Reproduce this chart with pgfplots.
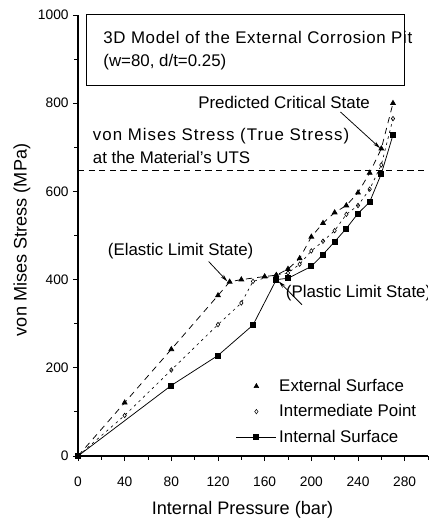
\documentclass[border=0pt]{standalone}
\usepackage{fontspec}
\setmainfont{Liberation Sans}
\usepackage{pgfplots}
\pgfplotsset{compat=1.18}
\usetikzlibrary{arrows.meta}

% stress vs pressure, three locations of the pit
\pgfplotstableread{
p s
0 0
40 121
80 242
120 364
130 395
140 400
160 407
170 410
180 424
190 448
200 497
210 528
220 552
230 568
240 597
250 642
260 697
270 800
}\external

\pgfplotstableread{
p s
0 0
40 92
80 195
120 298
140 347
150 396
170 411
180 415
190 435
200 465
210 487
220 511
230 548
240 568
250 605
260 660
270 765
}\intermediate

\pgfplotstableread{
p s
0 0
80 160
120 228
150 297
170 400
180 403
200 430
210 457
220 486
230 516
240 550
250 576
260 640
270 728
}\internal

\newcommand{\annfont}{\fontsize{13.5}{15}\selectfont}

\begin{document}
\begin{tikzpicture}
\begin{axis}[
    name=ax, scale only axis, width=280pt, height=352.8pt,
    xmin=0, xmax=300, ymin=0, ymax=1000,
    axis x line*=bottom, axis y line*=left,
    axis line style={-, line width=0.9pt},
    xtick={0,40,...,280}, minor xtick={20,60,...,300},
    ytick={0,200,...,1000}, minor ytick={100,300,...,900},
    tick align=outside, major tick length=4pt, minor tick length=3pt,
    tick style={black, line width=0.7pt},
    /pgf/number format/assume math mode=true,
    /pgf/number format/1000 sep={},
    tick label style={font=\fontsize{11}{13}\selectfont},
    xticklabel style={yshift=-9pt},
    label style={font=\fontsize{14.5}{17}\selectfont},
    xlabel={Internal Pressure (bar)}, ylabel={von Mises Stress (MPa)},
    x label style={at={(axis description cs:0.47,-0.122)}, anchor=center},
    y label style={at={(axis description cs:-0.16,0.49)}, anchor=center},
    legend style={draw=none, fill=none, at={(0.44,0.186)}, anchor=north west,
        font=\annfont, row sep=5pt},
    legend cell align=left,
    legend image code/.code={\draw[mark repeat=2, mark phase=2, #1]
        plot coordinates {(0pt,0pt) (16pt,0pt) (32pt,0pt)};},
]
\addplot[black, line width=0.6pt, dash pattern=on 5pt off 4pt, mark=triangle*,
    mark size=2.2pt, mark options={solid}, forget plot] table[x=p, y=s] {\external};
\addplot[black, line width=0.5pt, dash pattern=on 2pt off 3pt, mark=diamond,
    mark size=1.8pt, mark options={solid}, forget plot] table[x=p, y=s] {\intermediate};
\addplot[black, line width=0.6pt, mark=square*, mark size=2pt, forget plot]
    table[x=p, y=s] {\internal};

\addlegendimage{only marks, black, mark=triangle*, mark size=2.2pt}
\addlegendentry{External Surface}
\addlegendimage{only marks, black, mark=diamond, mark size=1.8pt}
\addlegendentry{Intermediate Point}
\addlegendimage{black, line width=0.6pt, mark=square*, mark size=2pt}
\addlegendentry{Internal Surface}

% UTS level
\draw[black, line width=0.6pt, dash pattern=on 5pt off 3.5pt]
    (axis cs:0,648) -- (axis cs:300,648);

% title box
\draw[black, line width=0.8pt] (axis cs:7,840) rectangle (axis cs:280,1000);
\node[anchor=west, font=\annfont\addfontfeatures{LetterSpace=4}] at (axis cs:18,950)
    {3D Model of the External Corrosion Pit};
\node[anchor=west, font=\annfont] at (axis cs:18,893) {(w=80, d/t=0.25)};

\node[anchor=west, font=\annfont\addfontfeatures{LetterSpace=6}] at (axis cs:9,725)
    {von Mises Stress (True Stress)};
\node[anchor=west, font=\annfont] at (axis cs:9,677) {at the Material's UTS};

\node[anchor=east, font=\annfont] at (axis cs:254,802) {Predicted Critical State};
\draw[-{Stealth[length=6pt, width=3pt]}, line width=0.6pt]
    (axis cs:225,780) -- (axis cs:259,698);

\node[font=\annfont] at (axis cs:88,464) {(Elastic Limit State)};
\draw[-{Stealth[length=6pt, width=3pt]}, line width=0.6pt]
    (axis cs:112,441) -- (axis cs:128,396);

\node[anchor=east, inner sep=0pt, font=\annfont] at (axis cs:303,370) {(Plastic Limit State)};
\draw[-{Stealth[length=6pt, width=3pt]}, line width=0.6pt]
    (axis cs:192,343) -- (axis cs:172,396);
\end{axis}
\pgfresetboundingbox
\path ([shift={(-62.4pt,-56pt)}]ax.south west)
    rectangle ([shift={(10.4pt,12pt)}]ax.north east);
\end{tikzpicture}
\end{document}
